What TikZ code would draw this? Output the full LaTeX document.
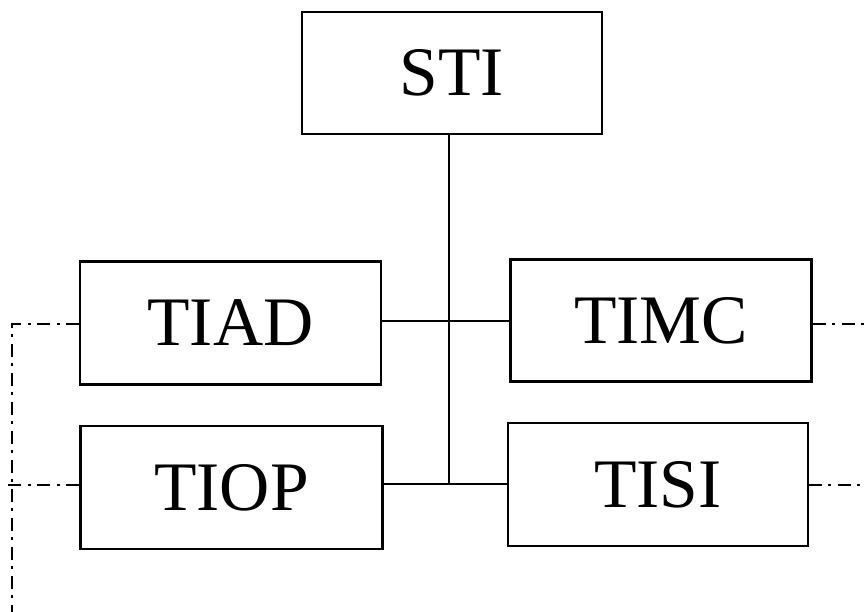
\documentclass[tikz,border=0pt]{standalone}
\usepackage{fontspec}
\setmainfont{Liberation Serif}
\begin{document}
\begin{tikzpicture}[x=1pt,y=-1pt,
  boxnode/.style={draw,line width=2.4pt,minimum width=#1,inner sep=0pt,font=\fontsize{69.5}{72}\selectfont},
  conn/.style={line width=2pt},
  dashdot/.style={line width=1.9pt,dash pattern=on 13pt off 6pt on 3pt off 7pt}]
\useasboundingbox (0,0) rectangle (867,612);
\node[boxnode=300pt,minimum height=122pt] (sti) at (452,73) {STI};
\node[boxnode=301pt,minimum height=123pt] (tiad) at (230.5,323) {TIAD};
\node[boxnode=301pt,minimum height=122pt] (timc) at (661,320.5) {TIMC};
\node[boxnode=302pt,minimum height=123pt] (tiop) at (231.5,487.5) {TIOP};
\node[boxnode=300pt,minimum height=123pt] (tisi) at (658,484.5) {TISI};
\coordinate (tb) at (449,484);
\coordinate (lt) at (12,324);
\coordinate (lb) at (12,612);
\coordinate (lm) at (7,485);
\coordinate (rt) at (867,324);
\coordinate (rb) at (867,485);
\draw[conn] (sti.south -| tb) -- (tb);
\draw[conn] (tiad.east |- 0,321) -- (timc.west |- 0,321);
\draw[conn] (tiop.east |- tb) -- (tisi.west |- tb);
\draw[dashdot] (tiad.west |- lt) -- (lt) -- (lb);
\draw[dashdot] (tiop.west |- lm) -- (lm);
\draw[dashdot] (timc.east |- rt) -- (rt);
\draw[dashdot] (tisi.east |- rb) -- (rb);
\end{tikzpicture}
\end{document}
